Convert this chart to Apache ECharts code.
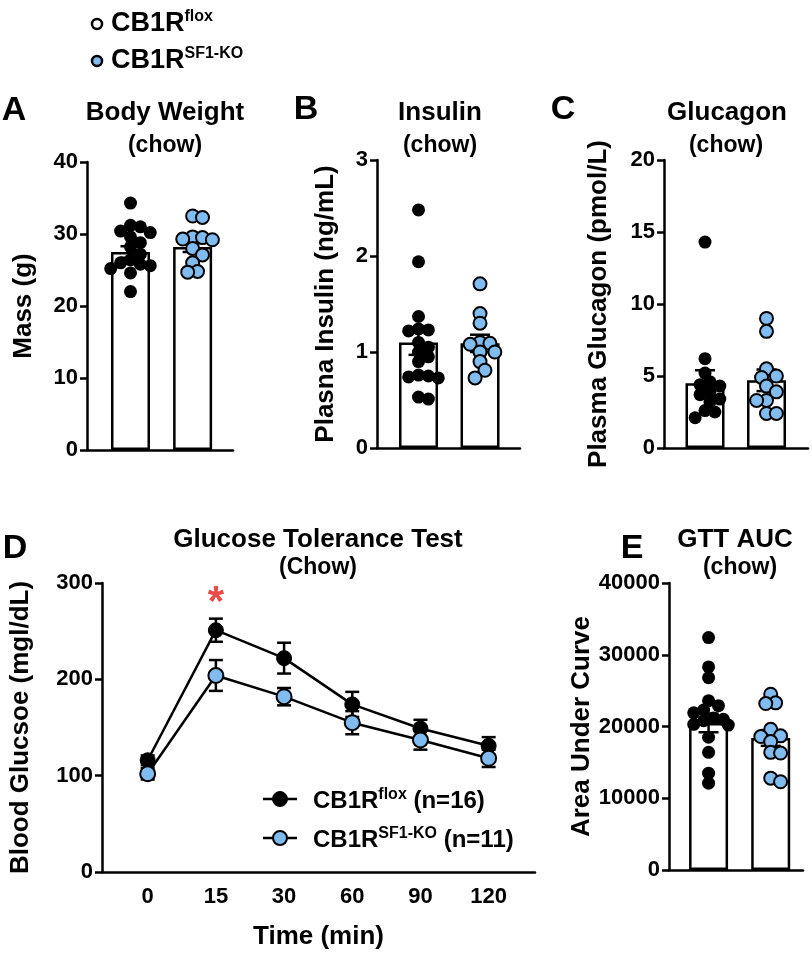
<!DOCTYPE html>
<html>
<head>
<meta charset="utf-8">
<script src="https://cdn.jsdelivr.net/npm/echarts@6/dist/echarts.min.js"></script>
<style>
  html, body { margin: 0; background: #fff; }
  #main { width: 812px; height: 955px; }
</style>
</head>
<body>
<div id="main"></div>
<script>
// ---- data ----
const weightFlox = [34.3, 31.2, 31.0, 30.4, 30.2, 29.6, 28.8, 28.2, 27.2, 26.4, 26.0, 25.8, 25.6, 25.2, 24.6, 22.0];
const weightKO = [32.5, 32.3, 29.6, 29.5, 29.3, 29.2, 28.0, 27.1, 26.0, 24.8, 24.7];
const weightMean = [27.5, 28.2];
const weightSem = [0.8, 0.7];

const insulinFlox = [2.48, 1.94, 1.37, 1.24, 1.23, 1.22, 1.10, 1.05, 1.00, 0.95, 0.90, 0.76, 0.75, 0.74, 0.73, 0.53, 0.51];
const insulinKO = [1.71, 1.40, 1.30, 1.10, 1.09, 1.08, 1.00, 1.00, 0.90, 0.81, 0.73];
const insulinMean = [1.10, 1.09];
const insulinSem = [0.13, 0.09];

const glucagonFlox = [14.3, 6.2, 5.2, 4.6, 4.4, 4.3, 3.9, 3.7, 3.4, 3.2, 2.6, 2.5, 2.1];
const glucagonKO = [9.0, 8.1, 5.5, 5.0, 4.9, 4.3, 3.9, 3.3, 3.3, 2.4, 2.4];
const glucagonMean = [4.5, 4.7];
const glucagonSem = [0.9, 0.75];

const aucFlox = [32400, 28300, 26800, 23600, 22900, 22300, 21900, 21200, 21000, 20800, 20300, 20200, 18500, 16400, 13500, 12100];
const aucKO = [24500, 23300, 23200, 19600, 18700, 18600, 17900, 16400, 16300, 12800, 12300];
const aucMean = [20500, 18400];
const aucSem = [1300, 1100];

const timeLabels = ['0', '15', '30', '60', '90', '120'];
const gttFlox = [116, 251, 222, 174, 149, 131];
const gttFloxSem = [5, 12, 16, 13, 9, 9];
const gttKO = [102, 204, 182, 155, 137, 118];
const gttKOSem = [6, 16, 9, 12, 10, 9];
const sigIndex = [1];

// ---- styling ----
const FONT = 'Liberation Sans, Arial, sans-serif';
const BLUE = '#80bcf0';
const AX = { color: '#000', width: 2.5 };

const grids = [
  { left: 87, top: 162, width: 146, height: 288 },
  { left: 377, top: 160, width: 143, height: 288 },
  { left: 664, top: 160, width: 144, height: 288 },
  { left: 669, top: 583, width: 134, height: 287 },
  { left: 101, top: 583, width: 434, height: 289 }
];

const panels = [
  { flox: weightFlox, ko: weightKO, mean: weightMean, sem: weightSem, max: 40, step: 10, name: 'Mass (g)', gap: 50, xMin: -0.7, xMax: 1.65 },
  { flox: insulinFlox, ko: insulinKO, mean: insulinMean, sem: insulinSem, max: 3, step: 1, name: 'Plasna Insulin (ng/mL)', gap: 38, xMin: -0.675, xMax: 1.65 },
  { flox: glucagonFlox, ko: glucagonKO, mean: glucagonMean, sem: glucagonSem, max: 20, step: 5, name: 'Plasma Glucagon (pmol/L)', gap: 52, xMin: -0.667, xMax: 1.675 },
  { flox: aucFlox, ko: aucKO, mean: aucMean, sem: aucSem, max: 40000, step: 10000, name: 'Area Under Curve', gap: 70, xMin: -0.637, xMax: 1.52 }
];

// tight beeswarm (points may overlap a bit, like the original)
function swarm(values, pxY, d) {
  const placed = [];
  return values.map(v => {
    const y = v * pxY;
    let bestOff = 0, bestScore = -Infinity;
    for (let k = 0; k < 9; k++) {
      const off = (k % 2 ? 1 : -1) * Math.ceil(k / 2) * d * 0.38;
      let minD = Infinity;
      placed.forEach(p => { minD = Math.min(minD, Math.hypot(p[0] - off, p[1] - y)); });
      if (minD >= d * 0.72) { bestOff = off; break; }
      if (minD > bestScore) { bestScore = minD; bestOff = off; }
    }
    placed.push([bestOff, y]);
    return bestOff;
  });
}

function errorBars(cap) {
  return function (params, api) {
    const x = api.value(0), m = api.value(1), s = api.value(2);
    const top = api.coord([x, m + s]);
    const bot = api.coord([x, m - s]);
    const h = cap / 2;
    const st = { stroke: '#000', lineWidth: 2.5 };
    return {
      type: 'group',
      children: [
        { type: 'line', shape: { x1: top[0], y1: top[1], x2: bot[0], y2: bot[1] }, style: st },
        { type: 'line', shape: { x1: top[0] - h, y1: top[1], x2: top[0] + h, y2: top[1] }, style: st },
        { type: 'line', shape: { x1: bot[0] - h, y1: bot[1], x2: bot[0] + h, y2: bot[1] }, style: st }
      ]
    };
  };
}

const tickLabel = { fontSize: 22, fontWeight: 'bold', color: '#000', fontFamily: FONT, formatter: v => String(v) };
const axisName = { fontSize: 26, fontWeight: 'bold', color: '#000', fontFamily: FONT };

const xAxes = [], yAxes = [], series = [];

panels.forEach((p, i) => {
  const g = grids[i];
  const pxX = g.width / (p.xMax - p.xMin);
  const pxY = g.height / p.max;
  xAxes.push({
    type: 'value', gridIndex: i, min: p.xMin, max: p.xMax,
    axisLine: { show: true, onZero: false, lineStyle: AX },
    axisTick: { show: false }, axisLabel: { show: false }, splitLine: { show: false }
  });
  yAxes.push({
    type: 'value', gridIndex: i, min: 0, max: p.max, interval: p.step,
    name: p.name, nameLocation: 'middle', nameGap: p.gap, nameRotate: 90, nameTextStyle: axisName,
    axisLine: { show: true, onZero: false, lineStyle: AX },
    axisTick: { show: true, length: 7, lineStyle: AX },
    axisLabel: Object.assign({ margin: 9 }, tickLabel),
    splitLine: { show: false }
  });
  series.push({
    type: 'bar', xAxisIndex: i, yAxisIndex: i, barWidth: 39, z: 1,
    data: p.mean.map((m, j) => [j, m]),
    itemStyle: { color: '#fff', borderColor: '#000', borderWidth: 2.5 }
  });
  series.push({
    type: 'custom', xAxisIndex: i, yAxisIndex: i, z: 2,
    renderItem: errorBars(20), encode: { x: 0, y: 1 },
    data: p.mean.map((m, j) => [j, m, p.sem[j]])
  });
  [p.flox, p.ko].forEach((vals, j) => {
    const offs = swarm(vals, pxY, 13);
    series.push({
      type: 'scatter', xAxisIndex: i, yAxisIndex: i, z: 3,
      symbol: 'circle', symbolSize: 13,
      data: vals.map((v, k) => [j + offs[k] / pxX, v]),
      itemStyle: j === 0
        ? { color: '#000', opacity: 1 }
        : { color: BLUE, borderColor: '#000', borderWidth: 2, opacity: 1 }
    });
  });
});

// GTT line panel
xAxes.push({
  type: 'value', gridIndex: 4, min: -0.67, max: 5.68,
  name: 'Time (min)', nameLocation: 'middle', nameGap: 52, nameTextStyle: axisName,
  axisLine: { show: true, onZero: false, lineStyle: AX },
  axisTick: { show: false },
  axisLabel: Object.assign({}, tickLabel, { margin: 14, customValues: [0, 1, 2, 3, 4, 5], formatter: v => timeLabels[Math.round(v)] }),
  splitLine: { show: false }
});
yAxes.push({
  type: 'value', gridIndex: 4, min: 0, max: 300, interval: 100,
  name: 'Blood Glucsoe (mgl/dL)', nameLocation: 'middle', nameGap: 68, nameRotate: 90, nameTextStyle: axisName,
  axisLine: { show: true, onZero: false, lineStyle: AX },
  axisTick: { show: true, length: 7, lineStyle: AX },
  axisLabel: Object.assign({ margin: 9 }, tickLabel),
  splitLine: { show: false }
});
[[gttFlox, gttFloxSem], [gttKO, gttKOSem]].forEach(([vals, sems], j) => {
  series.push({
    type: 'custom', xAxisIndex: 4, yAxisIndex: 4, z: 2,
    renderItem: errorBars(14), encode: { x: 0, y: 1 },
    data: vals.map((v, i) => [i, v, sems[i]])
  });
  series.push({
    type: 'line', xAxisIndex: 4, yAxisIndex: 4, z: 3 + j,
    symbol: 'circle', symbolSize: 15, showSymbol: true,
    data: vals.map((v, i) => [i, v]),
    lineStyle: { color: '#000', width: 2.5 },
    itemStyle: j === 0
      ? { color: '#000', borderColor: '#000', borderWidth: 1 }
      : { color: BLUE, borderColor: '#000', borderWidth: 2 }
  });
});
series.push({
  type: 'scatter', xAxisIndex: 4, yAxisIndex: 4, z: 5,
  symbolSize: 1, itemStyle: { color: 'rgba(0,0,0,0)' },
  data: sigIndex.map(i => [i, gttFlox[i] + gttFloxSem[i] + 26]),
  label: { show: true, position: 'inside', formatter: '*', offset: [0, 10], fontSize: 42, fontWeight: 'bold', color: '#e3211c', fontFamily: FONT }
});

// ---- text / legend graphics ----
function txt(x, y, text, size, extra) {
  return {
    type: 'text', x: x, y: y, z: 10,
    style: Object.assign({ text: text, fontSize: size, fontWeight: 'bold', fontFamily: FONT, fill: '#000', align: 'center', verticalAlign: 'middle' }, extra || {})
  };
}
const supRich = { sup: { fontSize: 16, lineHeight: 16, verticalAlign: 'top', fontWeight: 'bold', fontFamily: FONT } };
const supRichD = { sup: { fontSize: 16, lineHeight: 16, verticalAlign: 'top', fontWeight: 'bold', fontFamily: FONT } };
const graphic = [
  { type: 'circle', shape: { cx: 97, cy: 24, r: 5 }, style: { fill: '#fff', stroke: '#000', lineWidth: 2.5 } },
  { type: 'circle', shape: { cx: 97, cy: 61, r: 5 }, style: { fill: BLUE, stroke: '#000', lineWidth: 2.5 } },
  txt(111, 24, 'CB1R{sup|flox}', 27, { align: 'left', lineHeight: 30, rich: supRich }),
  txt(111, 61, 'CB1R{sup|SF1-KO}', 27, { align: 'left', lineHeight: 30, rich: supRich }),
  txt(14, 111, 'A', 34), txt(306, 110, 'B', 34), txt(563, 110, 'C', 34),
  txt(15, 549, 'D', 34), txt(632, 549, 'E', 34),
  txt(165, 113, 'Body Weight', 26), txt(165, 146, '(chow)', 23),
  txt(440, 113, 'Insulin', 26), txt(440, 146, '(chow)', 23),
  txt(727, 113, 'Glucagon', 26), txt(726, 146, '(chow)', 23),
  txt(318, 540, 'Glucose Tolerance Test', 26), txt(318, 568, '(Chow)', 23),
  txt(735, 540, 'GTT AUC', 26), txt(740, 568, '(chow)', 23),
  { type: 'line', shape: { x1: 263, y1: 799, x2: 297, y2: 799 }, style: { stroke: '#000', lineWidth: 2.5 } },
  { type: 'circle', shape: { cx: 280, cy: 799, r: 7.5 }, style: { fill: '#000', stroke: '#000', lineWidth: 1 } },
  { type: 'line', shape: { x1: 263, y1: 838, x2: 297, y2: 838 }, style: { stroke: '#000', lineWidth: 2.5 } },
  { type: 'circle', shape: { cx: 280, cy: 838, r: 7 }, style: { fill: BLUE, stroke: '#000', lineWidth: 2 } },
  txt(313, 801, 'CB1R{sup|flox} (n=16)', 24, { align: 'left', lineHeight: 28, rich: supRichD }),
  txt(313, 840, 'CB1R{sup|SF1-KO} (n=11)', 24, { align: 'left', lineHeight: 28, rich: supRichD })
];

const chart = echarts.init(document.getElementById('main'), null, { renderer: 'canvas' });
chart.setOption({
  animation: false,
  backgroundColor: '#fff',
  textStyle: { fontFamily: FONT },
  grid: grids,
  xAxis: xAxes,
  yAxis: yAxes,
  series: series,
  graphic: graphic
});
</script>
</body>
</html>
